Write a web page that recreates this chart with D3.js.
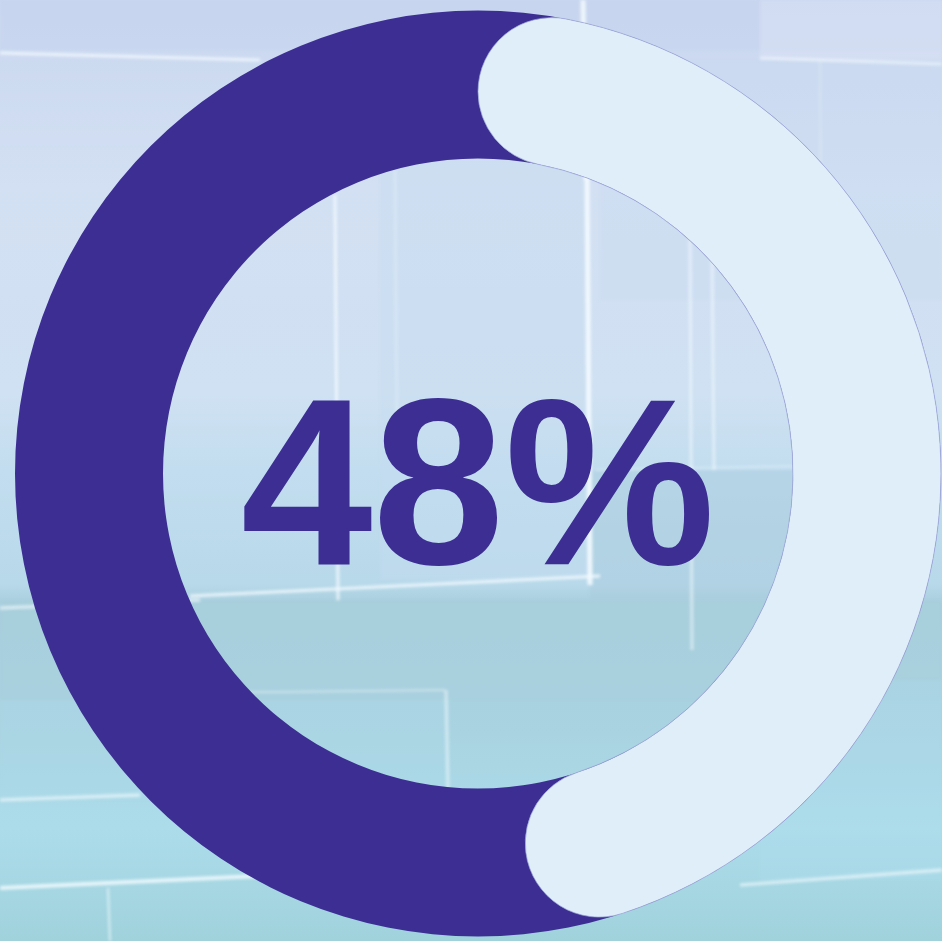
<!DOCTYPE html>
<html>
<head>
<meta charset="utf-8">
<script src="https://cdn.jsdelivr.net/npm/d3@7"></script>
<style>
  html, body { margin: 0; padding: 0; background: #c8d9ef; overflow: hidden; }
  svg { display: block; }
</style>
</head>
<body>
<svg id="chart" width="942" height="941"></svg>
<script>
// Progress value shown in the ring and its label
const shareValue = [48];
const shareTotal = [100];
const shareLabel = ["48%"];

const W = 942, H = 941;
const cx = 478, cy = 473.5;
const outerR = 463, innerR = 315;

const svg = d3.select("#chart");
const defs = svg.append("defs");

// Soft backdrop: pale sky-blue glass facade fading to teal
const bg = defs.append("linearGradient").attr("id", "bgGrad")
  .attr("x1", 0).attr("y1", 0).attr("x2", 0).attr("y2", 1);
[[0, "#c9d7ef"], [0.2, "#d3e0f3"], [0.42, "#cfe1f2"], [0.5, "#c2ddef"],
 [0.62, "#b8d9ea"], [0.64, "#aacfde"], [0.78, "#a9d3e1"], [0.88, "#acdcea"], [1, "#a0d2dc"]]
  .forEach(([o, c]) => bg.append("stop").attr("offset", o).attr("stop-color", c));

defs.append("filter").attr("id", "soft")
  .append("feGaussianBlur").attr("stdDeviation", 1.8);

svg.append("rect").attr("width", W).attr("height", H).attr("fill", "url(#bgGrad)");

// Glass panels and mullions of the facade behind the chart
const deco = svg.append("g").attr("filter", "url(#soft)");
const panels = [
  // x, y, w, h, fill, opacity
  [0, 0, 942, 50, "#c6d3ee", 0.6],
  [760, 0, 182, 60, "#dbe4f5", 0.5],
  [600, 60, 342, 240, "#c9d9f1", 0.35],
  [380, 160, 210, 420, "#c6dbf0", 0.4],
  [590, 470, 220, 130, "#aacbdd", 0.5],
  [0, 600, 942, 100, "#a7cddb", 0.35],
  [0, 700, 450, 100, "#acdbe9", 0.35],
  [760, 680, 182, 200, "#b0dced", 0.35]
];
deco.selectAll("rect.panel").data(panels).join("rect").attr("class", "panel")
  .attr("x", d => d[0]).attr("y", d => d[1]).attr("width", d => d[2]).attr("height", d => d[3])
  .attr("fill", d => d[4]).attr("opacity", d => d[5]);

const mullions = [
  // x1, y1, x2, y2, width, opacity
  [0, 53, 260, 60, 3, 0.8],
  [760, 58, 942, 64, 3, 0.6],
  [583, 0, 586, 180, 5, 0.85],
  [335, 195, 338, 600, 3, 0.8],
  [395, 170, 397, 430, 2, 0.35],
  [587, 170, 590, 585, 5, 0.9],
  [690, 240, 692, 650, 3, 0.55],
  [712, 250, 714, 470, 3, 0.55],
  [190, 596, 600, 576, 3, 0.85],
  [0, 608, 200, 600, 3, 0.7],
  [595, 470, 800, 466, 2, 0.35],
  [190, 693, 445, 690, 2, 0.45],
  [446, 690, 448, 790, 3, 0.55],
  [0, 800, 140, 795, 3, 0.7],
  [0, 888, 560, 862, 4, 0.85],
  [108, 888, 110, 941, 2, 0.7],
  [740, 885, 942, 870, 3, 0.7],
  [820, 60, 822, 400, 2, 0.25]
];
deco.selectAll("line").data(mullions).join("line")
  .attr("x1", d => d[0]).attr("y1", d => d[1]).attr("x2", d => d[2]).attr("y2", d => d[3])
  .attr("stroke", "#f4fbff").attr("stroke-width", d => d[4]).attr("opacity", d => d[5]);

// Ring: full dark track, light progress arc with rounded ends on top
const angle = d3.scaleLinear().domain([0, shareTotal[0]]).range([0, 2 * Math.PI]);
const g = svg.append("g").attr("transform", `translate(${cx},${cy})`);

const track = d3.arc().innerRadius(innerR).outerRadius(outerR)
  .startAngle(0).endAngle(2 * Math.PI);
g.append("path").attr("d", track()).attr("fill", "#3c2e93");

const progress = d3.arc().innerRadius(innerR).outerRadius(outerR)
  .cornerRadius((outerR - innerR) / 2);
g.selectAll("path.value").data(shareValue).join("path").attr("class", "value")
  .attr("d", d => progress({ startAngle: angle(0), endAngle: angle(d) }))
  .attr("fill", "#e0eef9")
  .attr("stroke", "#9aa4d8").attr("stroke-width", 0.7);

// Centre label
svg.append("text")
  .attr("x", cx).attr("y", 564)
  .attr("text-anchor", "middle")
  .attr("font-family", "'Liberation Sans', Arial, sans-serif")
  .attr("font-weight", "bold")
  .attr("font-size", 237)
  .attr("fill", "#3c2e93")
  .text(shareLabel[0]);
</script>
</body>
</html>
